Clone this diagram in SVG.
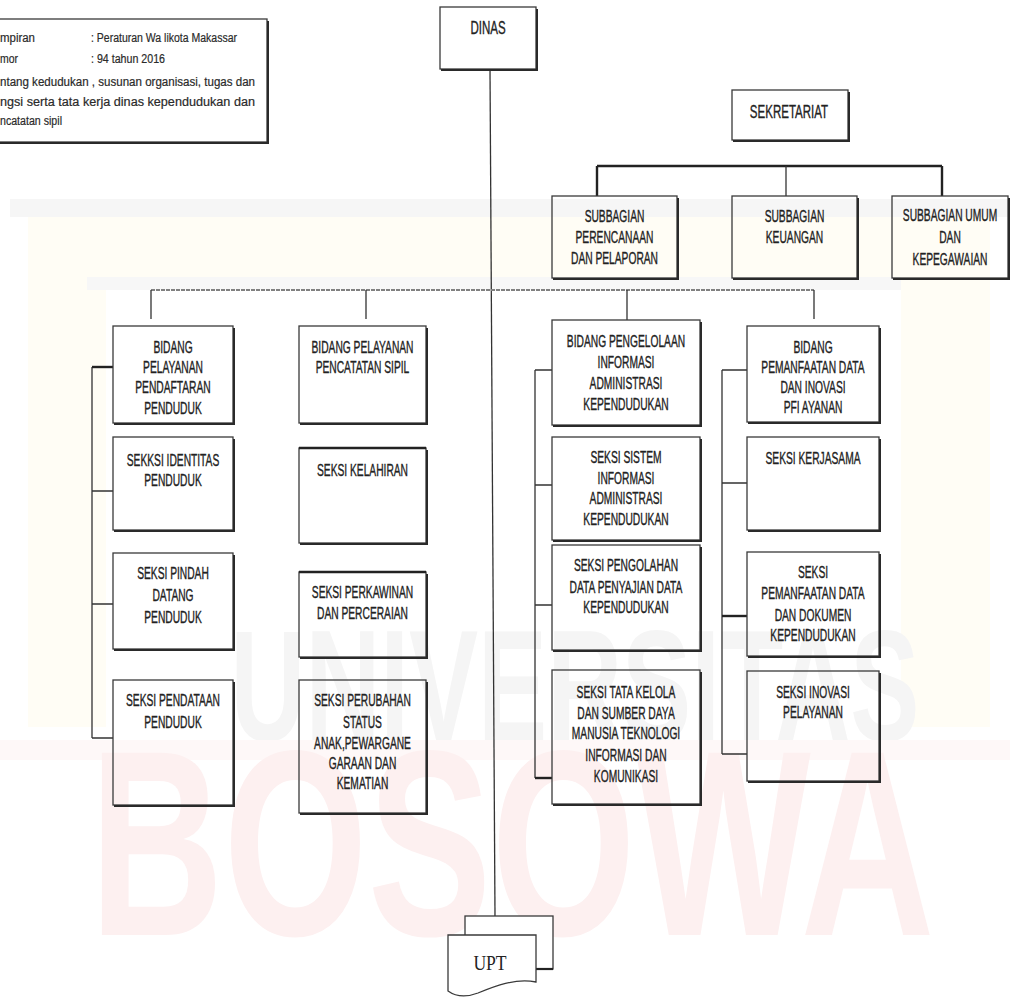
<svg xmlns="http://www.w3.org/2000/svg" width="1010" height="1002" viewBox="0 0 1010 1002">
<style>
.bx{fill:none;stroke:#3a3a3a;stroke-width:1.3}
.sd{fill:none;stroke:#2a2a2a;stroke-width:2}
.cn{fill:none;stroke:#333;stroke-width:1.3}
.ck{fill:none;stroke:#222;stroke-width:2.4}
.t{font-family:"Liberation Sans",Arial,sans-serif;font-size:16px;fill:#222;stroke:#222;stroke-width:0.35;text-anchor:middle}
.tb{font-family:"Liberation Sans",Arial,sans-serif;font-size:18px;fill:#222;stroke:#222;stroke-width:0.35;text-anchor:middle}
.tl{font-family:"Liberation Sans",Arial,sans-serif;font-size:12.5px;fill:#2a2a2a;stroke:#2a2a2a;stroke-width:0.2}
.wm{font-family:"Liberation Sans",Arial,sans-serif;font-weight:bold;text-anchor:middle}
</style>
<rect width="1010" height="1002" fill="#ffffff"/>
<g id="watermark">
  <rect x="10" y="199" width="1000" height="18" fill="#f6f6f6"/>
  <rect x="28" y="217" width="962" height="510" fill="#fffdf5"/>
  <rect x="87" y="277" width="814" height="13" fill="#f7f7f7"/>
  <rect x="106" y="290" width="795" height="437" fill="#ffffff"/>
  <g transform="translate(575,0) scale(0.66,1)"><text class="wm" x="0" y="740" font-size="157" fill="#f5f5f5">UNIVERSITAS</text></g>
  <rect x="0" y="740" width="1010" height="20" fill="#fef8f8"/>
  <g transform="translate(512,0) scale(0.7,1)"><text class="wm" x="0" y="935" font-size="265" fill="#fdf0f0">BOSOWA</text></g>
</g>
<g id="connectors">
  <path class="cn" d="M490,69 L495,916"/>
  <path class="ck" d="M597,166 H942 M597,166 V196 M942,166 V196"/>
  <path class="cn" d="M786,166 V196"/>
  <path d="M151,290 H814" fill="none" stroke="#808080" stroke-width="2" stroke-dasharray="4 1"/>
  <path class="cn" d="M151,290 V319 M366,290 V319 M627,290 V320 M814,290 V319"/>
  <path class="cn" d="M92,367 V738 M92,491 H113 M92,604 H113 M92,738 H113"/>
  <path class="ck" d="M92,367 H113"/>
  <path class="cn" d="M535,370 V778 M535,370 H552 M535,485 H552 M535,605 H552"/>
  <path class="ck" d="M535,778 H552"/>
  <path class="cn" d="M722,370 V754 M722,370 H747 M722,483 H747 M722,754 H747"/>
  <path class="ck" d="M722,616 H747"/>
</g>
<g id="lampiran">
  <rect class="bx" x="-5" y="19" width="272" height="123"/>
  <path class="sd" d="M-4,143 H268 V21"/>
  <text class="tl" x="0" y="42" textLength="35" lengthAdjust="spacingAndGlyphs">mpiran</text>
  <text class="tl" x="91" y="42" textLength="146" lengthAdjust="spacingAndGlyphs">: Peraturan Wa likota Makassar</text>
  <text class="tl" x="0" y="63" textLength="18" lengthAdjust="spacingAndGlyphs">mor</text>
  <text class="tl" x="91" y="63" textLength="74" lengthAdjust="spacingAndGlyphs">: 94 tahun 2016</text>
  <text class="tl" x="0" y="86" textLength="255" lengthAdjust="spacingAndGlyphs">ntang  kedudukan , susunan organisasi, tugas dan</text>
  <text class="tl" x="0" y="106" textLength="255" lengthAdjust="spacingAndGlyphs">ngsi serta tata kerja dinas kependudukan dan</text>
  <text class="tl" x="0" y="125" textLength="62" lengthAdjust="spacingAndGlyphs">ncatatan sipil</text>
</g>
<g id="dinas">
  <rect class="bx" x="440" y="7" width="96" height="62"/>
  <path class="sd" d="M441,70 H537 V9"/>
  <g transform="translate(488,0) scale(0.64,1)"><text class="tb" x="0" y="34">DINAS</text></g>
</g>
<g id="sekretariat">
  <rect class="bx" x="732" y="90" width="116" height="50"/>
  <path class="sd" d="M733,141 H849 V92"/>
  <g transform="translate(789,0) scale(0.64,1)"><text class="tb" x="0" y="118">SEKRETARIAT</text></g>
</g>
<g id="subbagian-perencanaan">
  <rect class="bx" x="552" y="196" width="125" height="82"/>
  <path class="sd" d="M553,279 H678 V198"/>
  <g transform="translate(614.5,0) scale(0.64,1)">
    <text class="t" x="0" y="222">SUBBAGIAN</text>
    <text class="t" x="0" y="243">PERENCANAAN</text>
    <text class="t" x="0" y="264">DAN PELAPORAN</text>
  </g>
</g>
<g id="subbagian-keuangan">
  <rect class="bx" x="732" y="196" width="125" height="82"/>
  <path class="sd" d="M733,279 H858 V198"/>
  <g transform="translate(794.5,0) scale(0.64,1)">
    <text class="t" x="0" y="222">SUBBAGIAN</text>
    <text class="t" x="0" y="243">KEUANGAN</text>
  </g>
</g>
<g id="subbagian-umum">
  <rect class="bx" x="892" y="196" width="116" height="82"/>
  <path class="sd" d="M893,279 H1009 V198"/>
  <g transform="translate(950,0) scale(0.64,1)">
    <text class="t" x="0" y="221">SUBBAGIAN UMUM</text>
    <text class="t" x="0" y="243">DAN</text>
    <text class="t" x="0" y="265">KEPEGAWAIAN</text>
  </g>
</g>
<g id="bidang-pendaftaran">
  <rect class="bx" x="113" y="326" width="120" height="97"/>
  <path class="sd" d="M114,424 H234 V328"/>
  <g transform="translate(173,0) scale(0.64,1)">
    <text class="t" x="0" y="353">BIDANG</text>
    <text class="t" x="0" y="373">PELAYANAN</text>
    <text class="t" x="0" y="393">PENDAFTARAN</text>
    <text class="t" x="0" y="414">PENDUDUK</text>
  </g>
</g>
<g id="seksi-identitas">
  <rect class="bx" x="113" y="437" width="120" height="93"/>
  <path class="sd" d="M114,531 H234 V439"/>
  <g transform="translate(173,0) scale(0.64,1)">
    <text class="t" x="0" y="466">SEKKSI IDENTITAS</text>
    <text class="t" x="0" y="486">PENDUDUK</text>
  </g>
</g>
<g id="seksi-pindah">
  <rect class="bx" x="113" y="553" width="120" height="96"/>
  <path class="sd" d="M114,650 H234 V555"/>
  <g transform="translate(173,0) scale(0.64,1)">
    <text class="t" x="0" y="579">SEKSI PINDAH</text>
    <text class="t" x="0" y="601">DATANG</text>
    <text class="t" x="0" y="623">PENDUDUK</text>
  </g>
</g>
<g id="seksi-pendataan">
  <rect class="bx" x="113" y="680" width="120" height="125"/>
  <path class="sd" d="M114,806 H234 V682"/>
  <g transform="translate(173,0) scale(0.64,1)">
    <text class="t" x="0" y="706">SEKSI PENDATAAN</text>
    <text class="t" x="0" y="728">PENDUDUK</text>
  </g>
</g>
<g id="bidang-pencatatan">
  <rect class="bx" x="299" y="326" width="127" height="97"/>
  <path class="sd" d="M300,424 H427 V328"/>
  <g transform="translate(362.5,0) scale(0.64,1)">
    <text class="t" x="0" y="353">BIDANG PELAYANAN</text>
    <text class="t" x="0" y="373">PENCATATAN SIPIL</text>
  </g>
</g>
<g id="seksi-kelahiran">
  <rect class="bx" x="299" y="448" width="127" height="95"/>
  <path class="sd" d="M300,544 H427 V450"/>
  <path class="ck" d="M299,448 H426"/>
  <g transform="translate(362.5,0) scale(0.64,1)">
    <text class="t" x="0" y="476">SEKSI KELAHIRAN</text>
  </g>
</g>
<g id="seksi-perkawinan">
  <rect class="bx" x="299" y="572" width="127" height="85"/>
  <path class="sd" d="M300,658 H427 V574"/>
  <path class="ck" d="M299,572 H426"/>
  <g transform="translate(362.5,0) scale(0.64,1)">
    <text class="t" x="0" y="598">SEKSI PERKAWINAN</text>
    <text class="t" x="0" y="619">DAN PERCERAIAN</text>
  </g>
</g>
<g id="seksi-perubahan">
  <rect class="bx" x="299" y="680" width="127" height="133"/>
  <path class="sd" d="M300,814 H427 V682"/>
  <g transform="translate(362.5,0) scale(0.64,1)">
    <text class="t" x="0" y="706">SEKSI PERUBAHAN</text>
    <text class="t" x="0" y="728">STATUS</text>
    <text class="t" x="0" y="749">ANAK,PEWARGANE</text>
    <text class="t" x="0" y="769">GARAAN DAN</text>
    <text class="t" x="0" y="789">KEMATIAN</text>
  </g>
</g>
<g id="bidang-pengelolaan">
  <rect class="bx" x="552" y="320" width="148" height="105"/>
  <path class="sd" d="M553,426 H701 V322"/>
  <g transform="translate(626,0) scale(0.64,1)">
    <text class="t" x="0" y="347">BIDANG PENGELOLAAN</text>
    <text class="t" x="0" y="368">INFORMASI</text>
    <text class="t" x="0" y="389">ADMINISTRASI</text>
    <text class="t" x="0" y="410">KEPENDUDUKAN</text>
  </g>
</g>
<g id="seksi-sistem">
  <rect class="bx" x="552" y="437" width="148" height="103"/>
  <path class="sd" d="M553,541 H701 V439"/>
  <g transform="translate(626,0) scale(0.64,1)">
    <text class="t" x="0" y="463">SEKSI SISTEM</text>
    <text class="t" x="0" y="484">INFORMASI</text>
    <text class="t" x="0" y="504">ADMINISTRASI</text>
    <text class="t" x="0" y="525">KEPENDUDUKAN</text>
  </g>
</g>
<g id="seksi-pengolahan">
  <rect class="bx" x="552" y="545" width="148" height="105"/>
  <path class="sd" d="M553,651 H701 V547"/>
  <g transform="translate(626,0) scale(0.64,1)">
    <text class="t" x="0" y="571">SEKSI PENGOLAHAN</text>
    <text class="t" x="0" y="593">DATA PENYAJIAN DATA</text>
    <text class="t" x="0" y="613">KEPENDUDUKAN</text>
  </g>
</g>
<g id="seksi-tata-kelola">
  <rect class="bx" x="552" y="670" width="148" height="134"/>
  <path class="sd" d="M553,805 H701 V672"/>
  <g transform="translate(626,0) scale(0.64,1)">
    <text class="t" x="0" y="698">SEKSI TATA KELOLA</text>
    <text class="t" x="0" y="719">DAN SUMBER DAYA</text>
    <text class="t" x="0" y="739">MANUSIA TEKNOLOGI</text>
    <text class="t" x="0" y="761">INFORMASI DAN</text>
    <text class="t" x="0" y="782">KOMUNIKASI</text>
  </g>
</g>
<g id="bidang-pemanfaatan">
  <rect class="bx" x="747" y="326" width="132" height="96"/>
  <path class="sd" d="M748,423 H880 V328"/>
  <g transform="translate(813,0) scale(0.64,1)">
    <text class="t" x="0" y="353">BIDANG</text>
    <text class="t" x="0" y="373">PEMANFAATAN DATA</text>
    <text class="t" x="0" y="393">DAN INOVASI</text>
    <text class="t" x="0" y="413">PFI AYANAN</text>
  </g>
</g>
<g id="seksi-kerjasama">
  <rect class="bx" x="747" y="437" width="132" height="93"/>
  <path class="sd" d="M748,531 H880 V439"/>
  <g transform="translate(813,0) scale(0.64,1)">
    <text class="t" x="0" y="464">SEKSI KERJASAMA</text>
  </g>
</g>
<g id="seksi-pemanfaatan-dokumen">
  <rect class="bx" x="747" y="552" width="132" height="104"/>
  <path class="sd" d="M748,657 H880 V554"/>
  <g transform="translate(813,0) scale(0.64,1)">
    <text class="t" x="0" y="578">SEKSI</text>
    <text class="t" x="0" y="599">PEMANFAATAN DATA</text>
    <text class="t" x="0" y="621">DAN DOKUMEN</text>
    <text class="t" x="0" y="641">KEPENDUDUKAN</text>
  </g>
</g>
<g id="seksi-inovasi">
  <rect class="bx" x="747" y="671" width="132" height="110"/>
  <path class="sd" d="M748,782 H880 V673"/>
  <g transform="translate(813,0) scale(0.64,1)">
    <text class="t" x="0" y="698">SEKSI INOVASI</text>
    <text class="t" x="0" y="718">PELAYANAN</text>
  </g>
</g>
<g id="upt">
  <rect x="465" y="916" width="88" height="53" fill="#ffffff" stroke="#3a3a3a" stroke-width="1.3"/>
  <path d="M536,969 H553" stroke="#222" stroke-width="2.2" fill="none"/>
  <path d="M448,935 H536 V982 C515,978 495,986 478,993 C465,998 455,996 448,991 Z" fill="#ffffff" stroke="#3a3a3a" stroke-width="1.3"/>
  <g transform="translate(490,0) scale(0.8,1)"><text x="0" y="970" text-anchor="middle" font-family="'Liberation Serif','Times New Roman',serif" font-size="22" fill="#222">UPT</text></g>
</g>
</svg>
